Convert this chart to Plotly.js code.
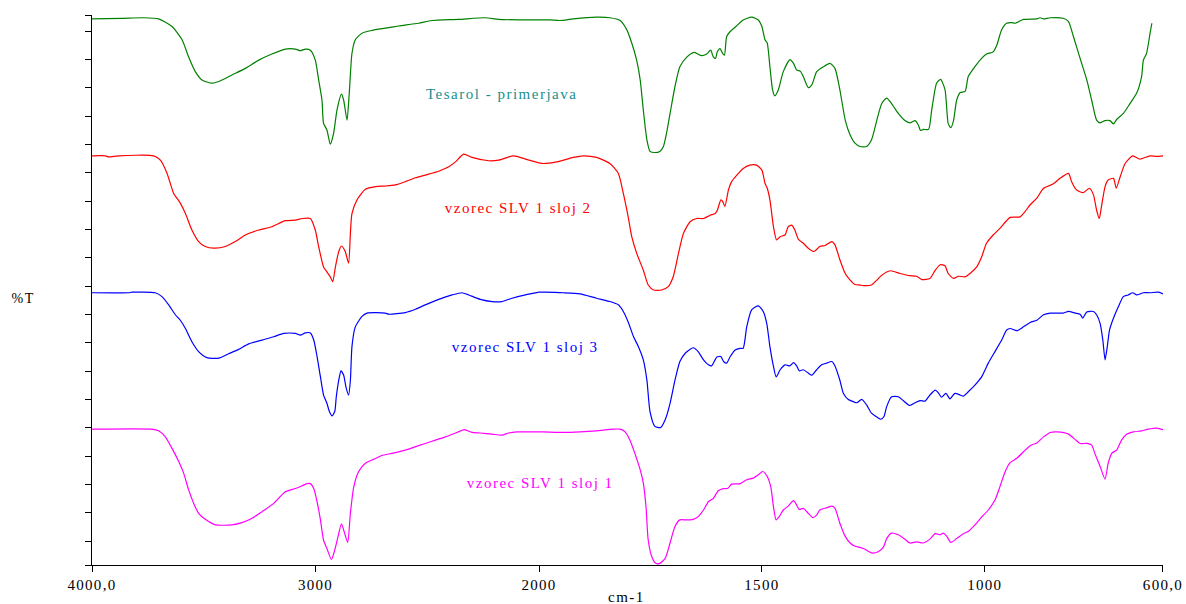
<!DOCTYPE html>
<html>
<head>
<meta charset="utf-8">
<script src="https://cdn.plot.ly/plotly-3.0.1.min.js"></script>
<style>
html,body{margin:0;padding:0;background:#fff;}
#chart{width:1186px;height:604px;}
#chart .xtick text, #chart .x2tick text { letter-spacing: 1.3px; }
#chart .annotation-text { letter-spacing: 1.5px; }
</style>
</head>
<body>
<div id="chart"></div>
<script>
// Wavenumber (cm-1) and %T (offset, arbitrary units) for each spectrum
const tesarolWn = [4000,3866,3776,3702,3642,3597,3568,3538,3508,3463,3433,3374,3314,3254,3195,3135,3090,3068,3046,3023,3001,2986,2971,2964,2949,2934,2919,2904,2884,2874,2859,2849,2837,2822,2792,2747,2688,2628,2539,2479,2360,2240,2181,2061,2000,
1975,1953,1923,1871,1841,1818,1803,1792,1781,1773,1766,1758,1751,1740,1729,1721,1714,1706,1695,1684,1669,1652,1635,1624,1615,1609,1604,1600,1594,1588,1584,1579,1571,1557,1542,1523,1508,1500,1493,1488,1482,1476,1471,1463,1452,1437,1429,1422,1414,1407,1396,1388,1377,1362,1347,1336,1325,1313,1302,1291,1280,1265,1254,1242,1231,1220,1209,1194,1179,1168,1156,1149,1144,1138,1126,1119,1108,1099,1089,1082,1076,1070,1063,1055,1044,1037,1022,1007,996,981,973,962,951,939,932,913,883,876,868,853,824,812,801,786,771,760,749,741,730,719,711,704,689,674,659,648,644,637,629,625];
const tesarolT = [99.3,99.4,99.5,99.3,97.9,95.5,92.4,89.7,88.2,87.6,87.9,89.1,90.3,91.8,92.9,93.8,93.8,93.5,93.8,93.6,91.8,88.2,84.5,80.3,79.1,76.5,78.5,82.7,85.6,84.5,80.9,85.8,93.0,95.5,96.7,97.2,97.6,98.0,98.5,99.0,99.2,99.5,99.2,99.1,99.1,
99.1,99.0,99.3,99.6,99.5,99.0,97.3,94.9,91.8,88.2,82.7,77.3,75.2,75.0,75.2,76.1,78.5,82.1,87.0,90.6,92.3,93.2,92.6,92.9,93.6,92.4,92.1,93.3,93.9,93.0,92.7,96.1,97.0,98.0,99.1,99.6,99.1,97.9,95.5,94.9,90.6,86.4,85.3,86.4,89.7,91.9,91.2,90.0,89.8,88.8,86.8,87.3,89.7,90.6,91.2,90.3,86.4,80.9,78.2,76.7,76.1,76.1,77.3,80.9,83.9,84.9,83.9,82.1,80.8,80.4,80.8,80.0,79.0,79.2,79.2,82.7,87.6,88.3,86.4,80.3,79.5,80.8,84.5,85.9,86.1,88.8,90.6,92.1,92.9,93.3,94.5,97.3,98.5,98.6,98.5,99.2,99.3,99.5,99.3,99.5,99.4,98.8,96.1,92.1,88.2,84.5,80.9,80.4,80.8,80.8,80.2,81.0,82.1,83.9,85.8,88.8,91.8,93.0,96.7,98.5];

const sloj2Wn = [4000,3940,3925,3881,3724,3694,3664,3635,3605,3582,3553,3523,3493,3456,3403,3359,3314,3254,3195,3135,3090,3060,3023,3001,2986,2964,2949,2934,2923,2911,2896,2884,2867,2852,2844,2837,2814,2777,2732,2688,2643,2598,2553,2509,2449,2404,2374,2337,2300,2225,2181,2114,2061,2000,
1990,1960,1923,1901,1871,1841,1822,1811,1800,1792,1781,1766,1755,1743,1725,1710,1699,1687,1676,1661,1646,1631,1616,1605,1600,1592,1588,1583,1575,1568,1556,1542,1527,1512,1500,1493,1488,1482,1474,1467,1459,1448,1441,1433,1426,1418,1407,1396,1383,1370,1358,1343,1336,1325,1313,1302,1291,1280,1272,1254,1242,1231,1212,1190,1168,1153,1141,1123,1111,1100,1089,1082,1070,1059,1044,1033,1018,1007,996,981,966,943,921,910,898,883,868,846,831,812,805,794,779,765,756,749,743,738,730,723,711,705,696,685,668,652,629,614,600];
const sloj2T = [74.4,74.4,74.2,74.4,74.4,73.6,71.2,67.6,65.8,63.9,60.9,58.8,57.9,57.6,57.9,58.8,60.0,60.9,61.5,62.6,62.7,63.0,63.0,60.9,57.9,54.2,53.3,52.4,51.5,54.2,57.0,58.0,57.0,54.9,60.3,63.9,66.4,68.3,68.8,68.9,69.1,69.7,70.4,70.9,71.6,72.4,73.3,74.7,74.1,73.5,73.6,74.4,73.8,73.1,
73.0,73.3,74.1,74.4,74.1,73.0,71.2,67.6,63.3,59.7,56.7,53.6,50.9,50.0,50.0,50.6,52.4,56.7,60.3,62.4,63.0,63.0,63.6,63.9,64.5,66.4,66.1,65.2,68.2,69.7,70.9,72.1,72.7,72.7,71.8,69.4,68.5,66.4,61.5,59.1,59.7,60.0,61.5,61.8,60.9,59.2,58.5,57.6,57.0,57.9,58.1,58.8,58.2,55.5,53.0,51.8,51.0,50.9,50.8,50.9,51.8,52.7,53.5,53.0,52.6,52.5,51.9,52.1,53.6,54.6,54.4,53.0,52.1,52.5,52.4,53.0,54.2,56.0,58.5,60.0,61.2,63.2,63.3,64.2,65.5,66.7,68.5,69.3,70.3,71.2,69.7,68.2,67.7,68.5,67.3,64.5,63.0,65.2,68.8,70.0,70.3,68.5,70.6,73.0,74.4,73.8,74.4,74.3,74.4];

const sloj3Wn = [4000,3836,3821,3717,3687,3657,3627,3605,3582,3553,3523,3486,3433,3389,3344,3299,3239,3187,3142,3090,3068,3046,3023,3008,2993,2978,2964,2949,2938,2926,2914,2907,2896,2886,2874,2864,2852,2844,2837,2822,2792,2770,2688,2673,2598,2553,2509,2449,2389,2345,2315,2263,2210,2166,2121,2061,2000,
1990,1945,1908,1871,1841,1822,1811,1800,1788,1777,1766,1758,1751,1740,1727,1717,1706,1695,1684,1672,1654,1643,1631,1620,1613,1601,1592,1586,1579,1571,1560,1549,1542,1534,1523,1508,1497,1489,1482,1474,1468,1459,1448,1437,1429,1422,1416,1407,1396,1388,1377,1366,1355,1343,1336,1325,1317,1306,1295,1287,1276,1265,1254,1242,1233,1226,1220,1209,1194,1183,1168,1156,1145,1134,1123,1111,1104,1097,1087,1078,1067,1055,1048,1037,1022,1007,992,977,962,951,943,928,913,898,883,868,853,824,812,797,786,780,771,756,749,741,735,730,725,720,711,700,689,678,668,659,644,629,610,600];
const sloj3T = [49.5,49.5,49.6,49.5,48.8,47.3,45.5,44.5,43.0,40.6,38.8,37.7,37.6,38.4,39.2,40.2,40.9,41.5,42.1,42.1,41.8,42.2,42.2,40.9,37.9,34.2,30.9,29.4,27.9,27.1,27.9,30.6,33.6,35.3,34.5,32.4,30.9,33.6,39.7,43.3,45.2,45.8,45.8,45.6,45.9,46.5,47.3,48.3,49.1,49.5,49.1,48.3,47.9,47.9,48.5,49.1,49.6,
49.6,49.5,49.3,48.5,47.9,47.3,46.1,44.2,41.5,39.7,37.3,33.6,27.9,25.2,25.0,26.4,29.4,33.6,37.0,38.5,39.5,38.8,37.3,36.4,36.2,37.8,37.9,37.0,36.7,37.9,39.1,39.4,39.4,43.3,46.4,47.1,46.1,43.9,39.7,36.1,34.2,35.5,36.4,36.2,36.8,36.2,35.3,35.5,34.9,34.5,35.5,36.4,36.7,37.0,36.2,33.6,31.2,30.1,29.7,29.5,30.1,29.1,27.6,26.9,26.5,27.0,28.8,30.6,30.6,29.9,29.0,29.5,29.9,29.8,30.9,31.8,31.3,30.5,31.2,30.2,31.2,30.9,30.7,31.5,32.7,34.2,36.7,38.8,40.9,42.7,43.0,42.6,43.3,44.1,44.5,45.5,45.8,45.8,46.1,45.8,45.6,44.9,46.0,46.1,45.5,43.9,40.9,37.3,39.7,42.7,44.9,47.0,48.8,49.1,49.5,49.1,49.5,49.5,49.6,49.3];

const sloj1Wn = [4000,3732,3702,3672,3642,3612,3590,3568,3545,3523,3493,3448,3374,3329,3284,3239,3187,3135,3090,3060,3038,3023,3008,2993,2978,2964,2949,2929,2914,2899,2884,2870,2856,2844,2829,2807,2777,2740,2703,2658,2598,2539,2479,2419,2367,2333,2300,2263,2210,2166,2136,2099,2000,
1990,1945,1908,1871,1833,1818,1807,1796,1785,1773,1766,1760,1755,1747,1738,1729,1717,1706,1695,1684,1669,1654,1643,1631,1620,1609,1598,1586,1577,1568,1549,1534,1519,1508,1498,1488,1480,1474,1468,1461,1452,1441,1429,1422,1416,1407,1396,1385,1377,1370,1355,1343,1336,1325,1313,1302,1291,1280,1272,1254,1239,1227,1220,1209,1194,1179,1168,1153,1138,1123,1111,1100,1093,1085,1076,1063,1048,1037,1022,1007,992,977,966,954,943,928,913,898,883,868,853,838,812,797,786,771,760,753,741,730,723,715,704,693,681,666,648,633,614,600];
const sloj1T = [24.7,24.7,24.4,23.3,21.2,18.8,16.7,13.7,11.2,9.4,8.3,7.3,7.3,7.7,8.5,9.7,11.2,13.3,13.9,14.4,14.8,14.8,13.9,11.5,8.2,4.5,3.0,1.0,2.7,5.2,7.5,5.8,4.1,9.4,14.2,17.0,18.5,19.2,19.9,20.3,20.9,21.7,22.5,23.3,24.1,24.6,24.1,24.0,23.8,23.6,24.0,24.2,24.2,
24.2,24.1,24.2,24.4,24.7,24.7,24.2,22.7,20.3,17.3,14.9,10.6,4.5,1.5,0.3,0.3,1.2,4.0,7.0,8.2,8.2,8.3,8.8,10.0,11.5,12.1,13.5,13.9,13.9,14.7,14.8,15.5,15.8,16.4,17.0,16.1,14.2,10.6,8.2,8.8,10.0,10.7,11.7,10.9,10.1,10.3,9.4,8.6,9.1,10.0,10.4,10.7,10.3,7.6,5.2,4.0,3.4,3.2,3.0,2.2,2.4,3.3,4.8,5.8,5.5,4.7,4.0,4.2,4.0,4.7,5.7,5.5,5.8,5.2,4.1,4.8,5.7,6.1,7.3,8.7,10.0,11.8,14.2,17.0,18.6,19.4,20.6,21.7,22.2,23.3,24.1,24.2,23.8,22.8,22.1,22.1,21.8,20.3,17.9,15.6,18.5,20.3,20.9,22.7,23.8,24.2,24.4,24.7,24.9,24.6];

const seriesNames = ["Tesarol - primerjava", "vzorec SLV 1 sloj 2", "vzorec SLV 1 sloj 3", "vzorec SLV 1 sloj 1"];
const seriesColors = ["#008000", "#ff0000", "#0000ff", "#ff00ff"];
const labelColors = ["#168f8f", "#ff0000", "#0000ff", "#ff00ff"];
const xTickVals1 = [4000, 3000];
const xTickText1 = ["4000,0", "3000"];
const xTickVals2 = [2000, 1500, 1000, 600];
const xTickText2 = ["2000", "1500", "1000", "600,0"];
const BREAK = 2000;

const allWn = [tesarolWn, sloj2Wn, sloj3Wn, sloj1Wn];
const allT = [tesarolT, sloj2T, sloj3T, sloj1T];

const traces = [];
allWn.forEach((wn, i) => {
  const t = allT[i];
  const hx = [], hy = [], lx = [], ly = [];
  wn.forEach((w, k) => {
    if (w >= BREAK) { hx.push(w); hy.push(t[k]); }
    if (w <= BREAK) { lx.push(w); ly.push(t[k]); }
  });
  const line = {color: seriesColors[i], width: 1.2, shape: 'spline', smoothing: 0.6};
  traces.push({x: hx, y: hy, xaxis: 'x', yaxis: 'y', mode: 'lines', line: line, name: seriesNames[i], hoverinfo: 'skip'});
  traces.push({x: lx, y: ly, xaxis: 'x2', yaxis: 'y', mode: 'lines', line: line, name: seriesNames[i], hoverinfo: 'skip'});
});

// y ticks (no labels)
const yTicks = [0];
for (let v = 4.36; v < 99; v += 5.15) yTicks.push(v);
yTicks.push(100);

const serif = "'Liberation Serif', 'Times New Roman', serif";
const axisCommon = {
  showline: true, linecolor: '#000', linewidth: 1, ticks: 'outside', ticklen: 6, tickcolor: '#000', tickwidth: 1,
  showgrid: false, zeroline: false, tickfont: {family: serif, size: 15, color: '#000'}, fixedrange: true
};
const labelPos = [[0.3828, 0.8564], [0.3978, 0.6491], [0.4043, 0.3964], [0.4183, 0.1491]];
const annotations = seriesNames.map((n, i) => ({
  text: n, xref: 'paper', yref: 'paper', x: labelPos[i][0], y: labelPos[i][1], xanchor: 'center', yanchor: 'middle',
  showarrow: false, font: {family: serif, size: 15, color: labelColors[i]}
}));
annotations.push({text: '%T', xref: 'paper', yref: 'paper', x: -0.0635, y: 0.485, xanchor: 'center', yanchor: 'middle', showarrow: false, font: {family: serif, size: 14, color: '#000'}});
annotations.push({text: 'cm-1', xref: 'paper', yref: 'paper', x: 0.4995, y: -0.058, xanchor: 'center', yanchor: 'middle', showarrow: false, font: {family: serif, size: 15, color: '#000'}});

const layout = {
  width: 1186, height: 604,
  margin: {l: 92, r: 23, t: 15, b: 39, pad: 0},
  paper_bgcolor: '#fff', plot_bgcolor: '#fff', showlegend: false,
  xaxis: Object.assign({}, axisCommon, {domain: [0, 0.4174], range: [4000, 2000], tickvals: xTickVals1, ticktext: xTickText1, anchor: 'y'}),
  xaxis2: Object.assign({}, axisCommon, {domain: [0.4174, 1], range: [2000, 600], tickvals: xTickVals2, ticktext: xTickText2, anchor: 'y', ticklabeloverflow: 'allow'}),
  yaxis: Object.assign({}, axisCommon, {range: [0, 100], tickvals: yTicks, showticklabels: false}),
  annotations: annotations
};

Plotly.newPlot('chart', traces, layout, {displayModeBar: false, staticPlot: true});
</script>
</body>
</html>
